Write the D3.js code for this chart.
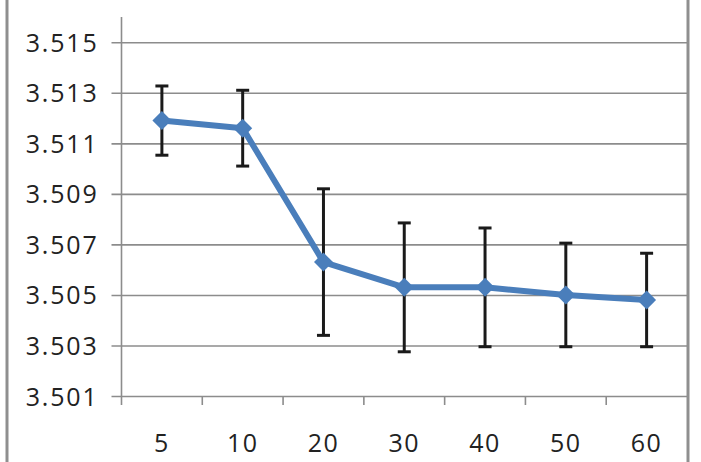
<!DOCTYPE html>
<html>
<head>
<meta charset="utf-8">
<script src="https://cdn.jsdelivr.net/npm/d3@7"></script>
<style>
  body { margin: 0; background: #fff; }
  svg text { font-family: "Open Sans", sans-serif; fill: #222; }
</style>
</head>
<body>
<div id="chart"></div>
<script>
// data
var categories = ["5", "10", "20", "30", "40", "50", "60"];
var means = [3.5119, 3.5116, 3.5063, 3.5053, 3.5053, 3.5050, 3.5048];
var errors = [0.00137, 0.0015, 0.0029, 0.00255, 0.00235, 0.00205, 0.00185];
var yTicks = [3.501, 3.503, 3.505, 3.507, 3.509, 3.511, 3.513, 3.515];

function init() {
	var w = 701;
	var h = 462;

	var left = 121.5, right = 687, top = 17, bottom = 396;

	var svg = d3.select("#chart")
		.append("svg")
		.attr("width", w)
		.attr("height", h);

	var xScale = d3.scaleBand()
		.domain(categories)
		.range([left, right]);

	var yScale = d3.scaleLinear()
		.domain([3.501, 3.516])
		.range([bottom, top]);

	// chart frame edges (left and right)
	svg.append("line")
		.attr("x1", 7).attr("x2", 7)
		.attr("y1", 0).attr("y2", h)
		.attr("stroke", "#8f8f8f").attr("stroke-width", 3);
	svg.append("line")
		.attr("x1", 688).attr("x2", 688)
		.attr("y1", 0).attr("y2", h)
		.attr("stroke", "#8f8f8f").attr("stroke-width", 3);

	// gridlines + y labels
	var yAxis = d3.axisLeft(yScale)
		.tickValues(yTicks)
		.tickSize(-(right - left))
		.tickSizeOuter(0)
		.tickPadding(23)
		.tickFormat(d3.format(".3f"));

	var gy = svg.append("g")
		.attr("transform", "translate(" + left + ",0)")
		.call(yAxis);
	gy.select(".domain").remove();
	gy.selectAll(".tick line")
		.attr("x1", -10)
		.attr("stroke", "#8c8c8c")
		.attr("stroke-width", 1.6);
	gy.selectAll(".tick text")
		.attr("font-size", 25)
		.attr("letter-spacing", "1.8px")
		.attr("dy", "0.36em")
		.attr("fill", "#222");

	// y axis line
	svg.append("line")
		.attr("x1", left).attr("x2", left)
		.attr("y1", top).attr("y2", bottom + 9)
		.attr("stroke", "#8c8c8c").attr("stroke-width", 1.6);

	// x tick marks at band edges
	svg.selectAll(".xtick")
		.data(categories.slice(1))
		.enter()
		.append("line")
		.attr("class", "xtick")
		.attr("x1", function(d) { return xScale(d); })
		.attr("x2", function(d) { return xScale(d); })
		.attr("y1", bottom)
		.attr("y2", bottom + 9)
		.attr("stroke", "#8c8c8c")
		.attr("stroke-width", 1.6);

	svg.selectAll(".xlabel")
		.data(categories)
		.enter()
		.append("text")
		.attr("class", "xlabel")
		.attr("x", function(d) { return xScale(d) + xScale.bandwidth() / 2; })
		.attr("y", 452)
		.attr("text-anchor", "middle")
		.attr("font-size", 25)
		.attr("letter-spacing", "1.5px")
		.text(function(d) { return d; });

	var cx = function(d, i) { return xScale(categories[i]) + xScale.bandwidth() / 2; };

	// error bars
	var eb = svg.selectAll(".err")
		.data(means)
		.enter()
		.append("g")
		.attr("class", "err")
		.attr("stroke", "#1a1a1a")
		.attr("stroke-width", 3);
	eb.append("line")
		.attr("x1", cx).attr("x2", cx)
		.attr("y1", function(d, i) { return yScale(d + errors[i]); })
		.attr("y2", function(d, i) { return yScale(d - errors[i]); });
	eb.append("line")
		.attr("x1", function(d, i) { return cx(d, i) - 6.5; })
		.attr("x2", function(d, i) { return cx(d, i) + 6.5; })
		.attr("y1", function(d, i) { return yScale(d + errors[i]); })
		.attr("y2", function(d, i) { return yScale(d + errors[i]); });
	eb.append("line")
		.attr("x1", function(d, i) { return cx(d, i) - 6.5; })
		.attr("x2", function(d, i) { return cx(d, i) + 6.5; })
		.attr("y1", function(d, i) { return yScale(d - errors[i]); })
		.attr("y2", function(d, i) { return yScale(d - errors[i]); });

	// the series line
	var line = d3.line()
		.x(cx)
		.y(function(d) { return yScale(d); });

	svg.append("path")
		.datum(means)
		.attr("d", line)
		.attr("fill", "none")
		.attr("stroke", "#4a7ebb")
		.attr("stroke-width", 6)
		.attr("stroke-linejoin", "round");

	// diamond markers
	svg.selectAll(".marker")
		.data(means)
		.enter()
		.append("path")
		.attr("class", "marker")
		.attr("d", d3.symbol().type(d3.symbolSquare).size(180))
		.attr("transform", function(d, i) {
			return "translate(" + cx(d, i) + "," + yScale(d) + ") rotate(45)";
		})
		.attr("fill", "#4a7ebb");
}

window.onload = init;
</script>
</body>
</html>
